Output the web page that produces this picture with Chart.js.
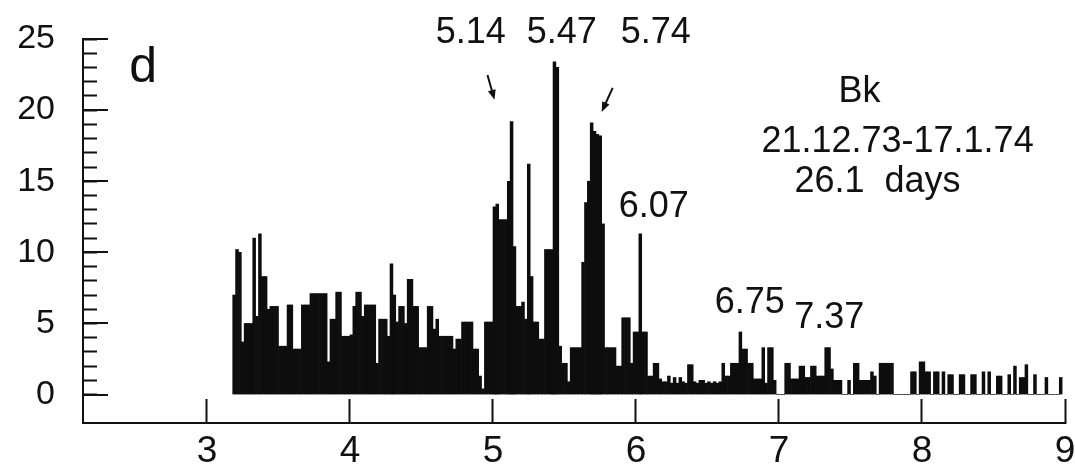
<!DOCTYPE html>
<html><head><meta charset="utf-8">
<script src="https://cdn.jsdelivr.net/npm/chart.js@4.4.1/dist/chart.umd.min.js"></script>
<style>html,body{margin:0;padding:0;background:#fff}canvas{display:block}</style>
</head><body>
<canvas id="c" width="1075" height="470"></canvas>
<script>
// ---- data (histogram, bins of width 0.02 starting at 3.18) ----
const binStart = 3.18;
const binWidth = 0.02;
const counts = [
  7,10.2,10,3.7,5,5,5,11,5.5,11.3,
  8.3,8.3,6,6.2,6.2,6.2,3.4,3.4,3.4,6.3,
  6.3,3.2,3.2,3.2,6.3,6.3,6.3,7.1,7.1,7.1,
  7.1,7.1,7.1,2.3,5.3,5.3,7.2,7.2,4.1,4.1,
  4.1,4.2,6.2,7.2,7.2,5.5,6.3,6.3,6.3,6.3,
  2.2,5.3,5.3,5.3,4.1,9.2,7,5.1,6.2,6.2,
  5,8.1,8.1,6.2,6.2,3.3,3.3,3.3,6.2,6.2,
  4.6,5.3,4.1,4.1,4.1,4.1,4.1,3.2,3.9,3.9,
  5.1,5.1,5.1,5.1,3.2,3.2,1.3,0.4,5.1,5.1,
  5.1,13.2,13.4,12.3,12.3,12.3,15,19.2,10.4,6.2,
  6.2,6.5,5.3,16.2,8.3,5.1,5.1,3.9,3.9,10.2,
  10.2,10.2,23.4,23,3.4,2.2,2.2,0.9,3.3,3.3,
  3.3,3.3,9.3,13.5,15,19.1,18.5,18.3,18.2,12,
  3.3,3.3,3.3,3.3,2,2,5.4,5.4,5.4,2.2,
  4.4,4.4,11.3,4.4,4.4,1.3,1.3,2.2,2.2,1.1,
  0.9,0.9,1.3,0.8,1.2,0.8,1.2,0.9,0.8,2.1,
  2.1,0.9,0.8,1,1,0.8,0.9,0.8,0.9,0.8,
  0.9,2.2,1.3,1.3,2.2,2.2,2.2,4.4,3.2,3.2,
  2.2,2.2,1.1,1.1,1.1,3.3,0.8,3.3,3.3,1,
  0,0,0,2.2,2.2,1.1,1.1,1.1,2,2,
  1.2,1.2,2,2,1.3,1.3,1.3,3.3,3.3,1.8,
  1,1,1,0,0,1,0,2.2,2.2,1,
  1,1,1,1.6,1.3,0,2.2,2.2,2.2,2.2,
  2.2,0,0,0,0,0,0,1.6,1.6,0,
  2.3,2.3,1.6,1.6,0,1.6,1.6,0,1.6,0,
  1.4,1.4,0,0,1.4,1.4,0,0,1.4,1.4,
  0,0,1.6,0,1.6,0,0,1.3,1.3,0,
  0,1.4,0,2,0,1.2,1.2,2.1,0,0,
  1.4,0,0,0,1.2,0,0,0,0,1.2
];
const xTickValues = [3,4,5,6,7,8,9];
const yTickLabels = [0,5,10,15,20,25];
const peakLabels = ['5.14','5.47','5.74','6.07','6.75','7.37'];
const panelLetter = 'd';
const infoLines = ['Bk','21.12.73-17.1.74','26.1  days'];

const FONT = "'Liberation Sans', Arial, Helvetica, sans-serif";
const INK = '#111';

// annotation placement (data coordinates of text baseline centre)
const textItems = [
  {text: peakLabels[0], x: 4.845, y: 24.72, size: 36},
  {text: peakLabels[1], x: 5.481, y: 24.72, size: 36},
  {text: peakLabels[2], x: 6.138, y: 24.72, size: 36},
  {text: peakLabels[3], x: 6.124, y: 12.5, size: 36},
  {text: peakLabels[4], x: 6.795, y: 5.76, size: 36},
  {text: peakLabels[5], x: 7.351, y: 4.71, size: 36},
  {text: panelLetter,   x: 2.553, y: 21.98, size: 50},
  {text: infoLines[0],  x: 7.563, y: 20.58, size: 36},
  {text: infoLines[1],  x: 7.829, y: 17.06, size: 36},
  {text: infoLines[2],  x: 7.689, y: 14.26, size: 36}
];
const arrowItems = [
  {x1: 4.9615, y1: 22.47, x2: 5.0105, y2: 20.72},
  {x1: 5.837,  y1: 21.56, x2: 5.760,  y2: 19.87}
];

const overlay = {
  id: 'overlay',
  beforeDraw(chart) {
    const ctx = chart.ctx;
    ctx.save(); ctx.fillStyle = '#fff'; ctx.fillRect(0, 0, chart.width, chart.height); ctx.restore();
  },
  afterDraw(chart) {
    const {ctx, scales: {x, y}} = chart;
    ctx.save();
    ctx.strokeStyle = INK; ctx.lineWidth = 2;
    yTickLabels.forEach(v => {
      const py = Math.round(y.getPixelForValue(v));
      ctx.beginPath(); ctx.moveTo(x.left, py); ctx.lineTo(x.left + 25, py); ctx.stroke();
    });
    ctx.fillStyle = INK; ctx.textAlign = 'center'; ctx.textBaseline = 'alphabetic';
    textItems.forEach(t => {
      ctx.font = t.size + 'px ' + FONT;
      ctx.fillText(t.text, x.getPixelForValue(t.x), y.getPixelForValue(t.y));
    });
    arrowItems.forEach(a => {
      const x1 = x.getPixelForValue(a.x1), y1 = y.getPixelForValue(a.y1);
      const x2 = x.getPixelForValue(a.x2), y2 = y.getPixelForValue(a.y2);
      const ang = Math.atan2(y2 - y1, x2 - x1);
      ctx.lineWidth = 2;
      ctx.beginPath(); ctx.moveTo(x1, y1); ctx.lineTo(x2 - 6 * Math.cos(ang), y2 - 6 * Math.sin(ang)); ctx.stroke();
      ctx.beginPath();
      ctx.moveTo(x2, y2);
      ctx.lineTo(x2 - 10 * Math.cos(ang) + 4 * Math.sin(ang), y2 - 10 * Math.sin(ang) - 4 * Math.cos(ang));
      ctx.lineTo(x2 - 10 * Math.cos(ang) - 4 * Math.sin(ang), y2 - 10 * Math.sin(ang) + 4 * Math.cos(ang));
      ctx.closePath(); ctx.fill();
    });
    ctx.restore();
  }
};

new Chart(document.getElementById('c'), {
  type: 'bar',
  data: {
    datasets: [{
      data: counts.map((c, i) => ({x: binStart + binWidth * (i + 0.5), y: c})),
      backgroundColor: '#0d0d0d',
      borderWidth: 0,
      barPercentage: 1,
      categoryPercentage: 1
    }]
  },
  options: {
    responsive: false,
    devicePixelRatio: 1,
    animation: false,
    events: [],
    layout: {autoPadding: false, padding: {left: 0, right: 10, top: 39, bottom: 0}},
    plugins: {legend: {display: false}, tooltip: {enabled: false}, title: {display: false}},
    scales: {
      x: {
        type: 'linear', min: 2.133, max: 9, offset: false,
        afterBuildTicks: s => { s.ticks = xTickValues.map(v => ({value: v})); },
        afterFit: s => { s.height = 47; s.paddingLeft = 0; s.paddingRight = 0; },
        border: {display: true, color: INK, width: 2},
        grid: {display: true, offset: false, drawOnChartArea: false, drawTicks: true, tickLength: -24, tickColor: INK, tickWidth: 2},
        ticks: {padding: 31, color: INK, font: {family: FONT, size: 37}, maxRotation: 0, autoSkip: false,
                callback: v => String(v)}
      },
      y: {
        type: 'linear', min: -2, max: 25,
        afterBuildTicks: s => { const t = []; for (let v = 0; v <= 25; v++) t.push({value: v}); s.ticks = t; },
        afterFit: s => { s.width = 83; s.paddingTop = 0; s.paddingBottom = 0; },
        border: {display: true, color: INK, width: 2},
        grid: {display: true, drawOnChartArea: false, drawTicks: true, tickLength: -14, tickColor: INK, tickWidth: 2},
        ticks: {padding: 42, color: INK, font: {family: FONT, size: 34}, autoSkip: false,
                callback: v => yTickLabels.includes(v) ? String(v) : ''}
      }
    }
  },
  plugins: [overlay]
});
</script>
</body></html>
